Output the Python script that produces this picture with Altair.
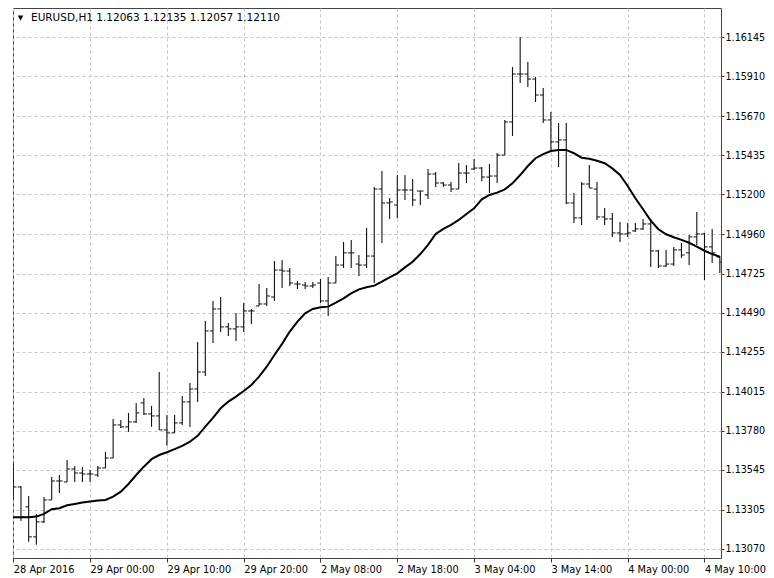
import json
import altair as alt
import pandas as pd

# OHLC hourly bars, EURUSD H1 (bar index 0 = 28 Apr 2016)
opens = [1.13544, 1.13442, 1.13322, 1.13142, 1.13232, 1.13364, 1.13478, 1.13472, 1.13550, 1.13526,
         1.13520, 1.13514, 1.13556, 1.13616, 1.13815, 1.13803, 1.13833, 1.13947, 1.13881, 1.13869,
         1.13785, 1.13767, 1.13827, 1.13953, 1.14031, 1.14133, 1.14380, 1.14512, 1.14404, 1.14392,
         1.14404, 1.14500, 1.14530, 1.14542, 1.14584, 1.14746, 1.14740, 1.14662, 1.14656, 1.14650,
         1.14668, 1.14560, 1.14668, 1.14776, 1.14849, 1.14782, 1.14776, 1.14830, 1.15233, 1.15149,
         1.15137, 1.15227, 1.15227, 1.15221, 1.15197, 1.15323, 1.15269, 1.15257, 1.15233, 1.15329,
         1.15353, 1.15359, 1.15305, 1.15311, 1.15437, 1.15636, 1.15924, 1.15924, 1.15894, 1.15798,
         1.15648, 1.15516, 1.15528, 1.15149, 1.15059, 1.15263, 1.15233, 1.15065, 1.15053, 1.14969,
         1.14963, 1.14981, 1.14993, 1.15023, 1.14861, 1.14770, 1.14782, 1.14867, 1.14849, 1.14945,
         1.14963, 1.14885, 1.14824]
highs = [1.13580, 1.13448, 1.13388, 1.13280, 1.13382, 1.13502, 1.13514, 1.13604, 1.13568, 1.13562,
         1.13544, 1.13568, 1.13652, 1.13851, 1.13845, 1.13887, 1.13947, 1.13977, 1.13929, 1.14133,
         1.13875, 1.13875, 1.13989, 1.14067, 1.14314, 1.14440, 1.14560, 1.14584, 1.14428, 1.14488,
         1.14548, 1.14512, 1.14662, 1.14638, 1.14800, 1.14806, 1.14758, 1.14680, 1.14674, 1.14674,
         1.14692, 1.14704, 1.14830, 1.14915, 1.14927, 1.14836, 1.14999, 1.15245, 1.15341, 1.15179,
         1.15317, 1.15317, 1.15293, 1.15221, 1.15353, 1.15335, 1.15275, 1.15275, 1.15389, 1.15377,
         1.15413, 1.15365, 1.15383, 1.15449, 1.15648, 1.15966, 1.16147, 1.15996, 1.15906, 1.15840,
         1.15696, 1.15630, 1.15630, 1.15209, 1.15275, 1.15377, 1.15275, 1.15119, 1.15089, 1.15035,
         1.15029, 1.15029, 1.15053, 1.15053, 1.14867, 1.14867, 1.14885, 1.14909, 1.14957, 1.15095,
         1.14969, 1.14993, 1.14830]
lows = [1.13370, 1.13238, 1.13112, 1.13094, 1.13226, 1.13364, 1.13406, 1.13472, 1.13472, 1.13472,
        1.13472, 1.13502, 1.13556, 1.13616, 1.13797, 1.13773, 1.13827, 1.13875, 1.13803, 1.13785,
        1.13689, 1.13767, 1.13815, 1.13803, 1.13953, 1.14109, 1.14308, 1.14374, 1.14350, 1.14320,
        1.14374, 1.14422, 1.14530, 1.14530, 1.14560, 1.14638, 1.14650, 1.14632, 1.14632, 1.14638,
        1.14548, 1.14470, 1.14668, 1.14758, 1.14758, 1.14710, 1.14758, 1.14668, 1.14909, 1.15053,
        1.15059, 1.15167, 1.15131, 1.15137, 1.15173, 1.15245, 1.15245, 1.15215, 1.15233, 1.15269,
        1.15347, 1.15281, 1.15209, 1.15269, 1.15437, 1.15552, 1.15870, 1.15846, 1.15756, 1.15630,
        1.15468, 1.15365, 1.15143, 1.15029, 1.15017, 1.15239, 1.15047, 1.15017, 1.14945, 1.14915,
        1.14945, 1.14975, 1.14987, 1.14764, 1.14758, 1.14764, 1.14770, 1.14818, 1.14776, 1.14897,
        1.14686, 1.14788, 1.14728]
closes = [1.13442, 1.13262, 1.13142, 1.13232, 1.13364, 1.13478, 1.13478, 1.13550, 1.13526, 1.13520,
          1.13520, 1.13556, 1.13616, 1.13815, 1.13803, 1.13833, 1.13887, 1.13881, 1.13869, 1.13785,
          1.13767, 1.13827, 1.13953, 1.14031, 1.14133, 1.14380, 1.14512, 1.14404, 1.14392, 1.14404,
          1.14500, 1.14500, 1.14542, 1.14590, 1.14746, 1.14740, 1.14668, 1.14662, 1.14650, 1.14656,
          1.14560, 1.14668, 1.14776, 1.14849, 1.14849, 1.14776, 1.14830, 1.15233, 1.15149, 1.15155,
          1.15227, 1.15227, 1.15167, 1.15221, 1.15323, 1.15269, 1.15257, 1.15233, 1.15329, 1.15329,
          1.15359, 1.15305, 1.15311, 1.15437, 1.15636, 1.15924, 1.15924, 1.15894, 1.15798, 1.15648,
          1.15516, 1.15528, 1.15149, 1.15059, 1.15263, 1.15239, 1.15065, 1.15053, 1.14969, 1.14963,
          1.14969, 1.14993, 1.15023, 1.14861, 1.14770, 1.14782, 1.14867, 1.14836, 1.14945, 1.14963,
          1.14885, 1.14849, 1.14794]
# moving average line
ma = [1.13260, 1.13260, 1.13260, 1.13264, 1.13280, 1.13308, 1.13314, 1.13332, 1.13340, 1.13348,
      1.13354, 1.13360, 1.13364, 1.13384, 1.13414, 1.13460, 1.13514, 1.13564, 1.13609, 1.13634,
      1.13651, 1.13669, 1.13689, 1.13714, 1.13749, 1.13805, 1.13857, 1.13915, 1.13955, 1.13985,
      1.14019, 1.14055, 1.14105, 1.14165, 1.14235, 1.14302, 1.14376, 1.14436, 1.14486, 1.14512,
      1.14522, 1.14526, 1.14550, 1.14576, 1.14606, 1.14630, 1.14642, 1.14652, 1.14676, 1.14702,
      1.14726, 1.14762, 1.14796, 1.14842, 1.14897, 1.14963, 1.14993, 1.15017, 1.15047, 1.15083,
      1.15117, 1.15171, 1.15197, 1.15211, 1.15231, 1.15267, 1.15317, 1.15371, 1.15418, 1.15443,
      1.15461, 1.15468, 1.15468, 1.15448, 1.15421, 1.15415, 1.15403, 1.15388, 1.15357, 1.15317,
      1.15251, 1.15177, 1.15111, 1.15043, 1.14991, 1.14961, 1.14943, 1.14927, 1.14910, 1.14886,
      1.14862, 1.14842, 1.14826]

x_labels = ["28 Apr 2016", "29 Apr 00:00", "29 Apr 10:00", "29 Apr 20:00", "2 May 08:00",
            "2 May 18:00", "3 May 04:00", "3 May 14:00", "4 May 00:00", "4 May 10:00"]
y_ticks = [1.13070, 1.13305, 1.13545, 1.13780, 1.14015, 1.14255, 1.14490, 1.14725,
           1.14960, 1.15200, 1.15435, 1.15670, 1.15910, 1.16145]
header = "EURUSD,H1  1.12063 1.12135 1.12057 1.12110"

df = pd.DataFrame({"i": list(range(len(opens))), "open": opens, "high": highs,
                   "low": lows, "close": closes, "ma": ma})

FONT = "DejaVu Sans"
xs = alt.Scale(domain=[-0.04, 92.15], nice=False, zero=False)
ys = alt.Scale(domain=[1.13015, 1.16321], nice=False, zero=False)

label_expr = ("datum.value % 10 == 0 ? " + json.dumps(x_labels).replace('"', "'")
              + "[datum.value / 10] : ''")
x_axis = alt.Axis(values=list(range(0, 91, 5)), labelExpr=label_expr, title=None,
                  grid=True, gridDash=[3, 3], gridColor="#c4c4c4", domain=False,
                  ticks=True, tickSize=4, tickColor="#333",
                  tickOpacity=alt.expr("datum.value % 10 == 0 ? 1 : 0"),
                  labelAlign="left", labelFont=FONT, labelFontSize=9.8, labelColor="#000",
                  labelPadding=2, labelOverlap=False, labelFlush=False, labelBound=False)
y_axis = alt.Axis(values=y_ticks, format=".5f", orient="right", title=None,
                  grid=True, gridDash=[3, 3], gridColor="#c4c4c4", domain=False,
                  tickSize=3, tickColor="#333", labelFont=FONT, labelFontSize=9.6,
                  labelColor="#000", labelPadding=1, labelOverlap=False, labelFlush=False,
                  labelBound=False)

base = alt.Chart(df)
hl = base.mark_rule(color="#111", strokeWidth=1.1, clip=True).encode(
    x=alt.X("i:Q", scale=xs, axis=x_axis),
    y=alt.Y("low:Q", scale=ys, axis=y_axis),
    y2="high:Q",
)
op = base.transform_calculate(xl="datum.i - 0.42").mark_rule(
    color="#111", strokeWidth=1, clip=True).encode(
    x=alt.X("xl:Q", scale=xs), x2="i:Q", y=alt.Y("open:Q", scale=ys))
cl = base.transform_calculate(xr="datum.i + 0.42").mark_rule(
    color="#111", strokeWidth=1, clip=True).encode(
    x=alt.X("i:Q", scale=xs), x2="xr:Q", y=alt.Y("close:Q", scale=ys))
line = base.mark_line(color="#000", strokeWidth=2, clip=True).encode(
    x=alt.X("i:Q", scale=xs), y=alt.Y("ma:Q", scale=ys))

tri = alt.Chart(pd.DataFrame({"t": ["▼"]})).mark_text(
    align="center", baseline="middle", fontSize=7, font=FONT, color="#000").encode(
    x=alt.value(7.5), y=alt.value(9.5), text="t:N")
title = alt.Chart(pd.DataFrame({"t": [header]})).mark_text(
    align="left", baseline="middle", fontSize=10.5, font=FONT, color="#000").encode(
    x=alt.value(18), y=alt.value(9.5), text="t:N")

chart = alt.layer(hl, op, cl, line, tri, title).properties(
    width=708, height=550,
    autosize=alt.AutoSizeParams(type="none"),
    padding={"left": 5, "top": 0, "right": 45, "bottom": 20},
    background="#ffffff",
).configure_view(stroke="#444", strokeWidth=1)

chart.save("out.html", embed_options={"renderer": "svg", "actions": False})
